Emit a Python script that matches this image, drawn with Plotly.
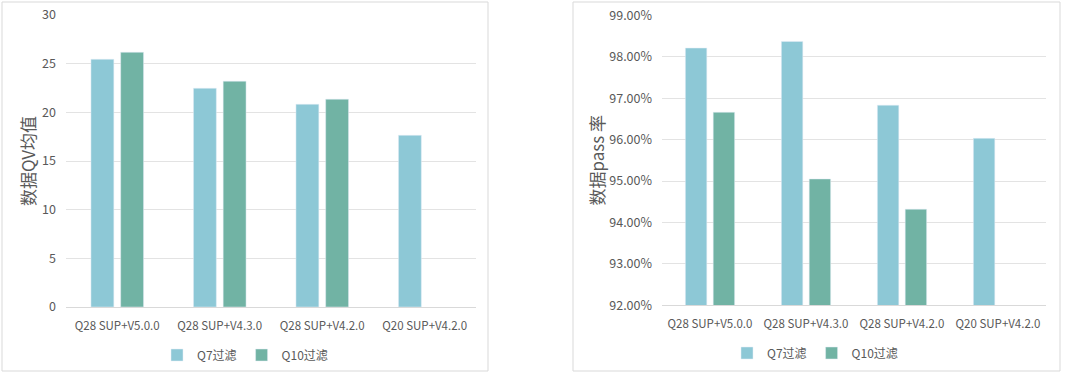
import plotly.graph_objects as go

categories = ["Q28 SUP+V5.0.0", "Q28 SUP+V4.3.0", "Q28 SUP+V4.2.0", "Q20 SUP+V4.2.0"]
series_names = ["Q7过滤", "Q10过滤"]
qv_q7 = [25.45, 22.47, 20.83, 17.64]
qv_q10 = [26.17, 23.2, 21.35, None]
pass_q7 = [0.9821, 0.9837, 0.9683, 0.9603]
pass_q10 = [0.9666, 0.9505, 0.9432, None]

C_Q7 = "#8DC8D6"
C_Q10 = "#71B3A4"
FONT = "Noto Sans CJK SC"
W, H = 1080, 388

fig = go.Figure()
fig.add_trace(go.Bar(x=categories, y=qv_q7, name=series_names[0], marker_color=C_Q7,
                     xaxis="x", yaxis="y", legend="legend"))
fig.add_trace(go.Bar(x=categories, y=qv_q10, name=series_names[1], marker_color=C_Q10,
                     xaxis="x", yaxis="y", legend="legend"))
fig.add_trace(go.Bar(x=categories, y=pass_q7, name=series_names[0], marker_color=C_Q7,
                     xaxis="x2", yaxis="y2", legend="legend2"))
fig.add_trace(go.Bar(x=categories, y=pass_q10, name=series_names[1], marker_color=C_Q10,
                     xaxis="x2", yaxis="y2", legend="legend2"))

def px_x(p):
    return p / W

def px_y(p):
    return 1 - p / H

tick_font = dict(family=FONT, size=12.5, color="#595959")
cat_font = dict(family=FONT, size=11.5, color="#595959")
title_font = dict(family=FONT, size=17, color="#595959")
leg_font = dict(family=FONT, size=12, color="#595959")

fig.update_layout(
    width=W, height=H,
    margin=dict(l=0, r=0, t=0, b=0, autoexpand=False),
    paper_bgcolor="white", plot_bgcolor="white",
    barmode="group", bargap=0.42, bargroupgap=0.23,
    font=dict(family=FONT, color="#595959"),
    xaxis=dict(domain=[px_x(66), px_x(476)], anchor="y", showline=True, linecolor="#d9d9d9",
               ticks="", tickfont=cat_font, showgrid=False, automargin=False, ticklabelstandoff=8),
    yaxis=dict(domain=[px_y(307), px_y(15)], anchor="x", range=[0, 30], dtick=5,
               showgrid=True, gridcolor="#e3e3e3", zeroline=False, tickfont=tick_font,
               ticklabelstandoff=9, automargin=False,
               title=dict(text="数据QV均值", font=title_font, standoff=2)),
    xaxis2=dict(domain=[px_x(662), px_x(1046)], anchor="y2", showline=True, linecolor="#d9d9d9",
                ticks="", tickfont=cat_font, showgrid=False, automargin=False, ticklabelstandoff=8),
    yaxis2=dict(domain=[px_y(305.3), px_y(15.3)], anchor="x2", range=[0.92, 0.99], dtick=0.01,
                tickformat=".2%", showgrid=True, gridcolor="#e3e3e3", zeroline=False,
                tickfont=tick_font, ticklabelstandoff=9, automargin=False,
                title=dict(text="数据pass 率", font=title_font, standoff=0)),
    legend=dict(orientation="h", x=px_x(245), xanchor="center", y=px_y(355), yanchor="middle",
                font=leg_font, itemclick=False, itemwidth=30, tracegroupgap=0),
    legend2=dict(orientation="h", x=px_x(815), xanchor="center", y=px_y(353), yanchor="middle",
                 font=leg_font, itemclick=False, itemwidth=30, tracegroupgap=0),
    shapes=[
        dict(type="rect", xref="paper", yref="paper", x0=px_x(2), x1=px_x(488), y0=px_y(371), y1=px_y(2),
             line=dict(color="#d9d9d9", width=1)),
        dict(type="rect", xref="paper", yref="paper", x0=px_x(573), x1=px_x(1060), y0=px_y(371), y1=px_y(2),
             line=dict(color="#d9d9d9", width=1)),
    ],
)

fig.write_html("out.html", config={"displayModeBar": False},
               post_script="document.body.style.margin='0px';")
